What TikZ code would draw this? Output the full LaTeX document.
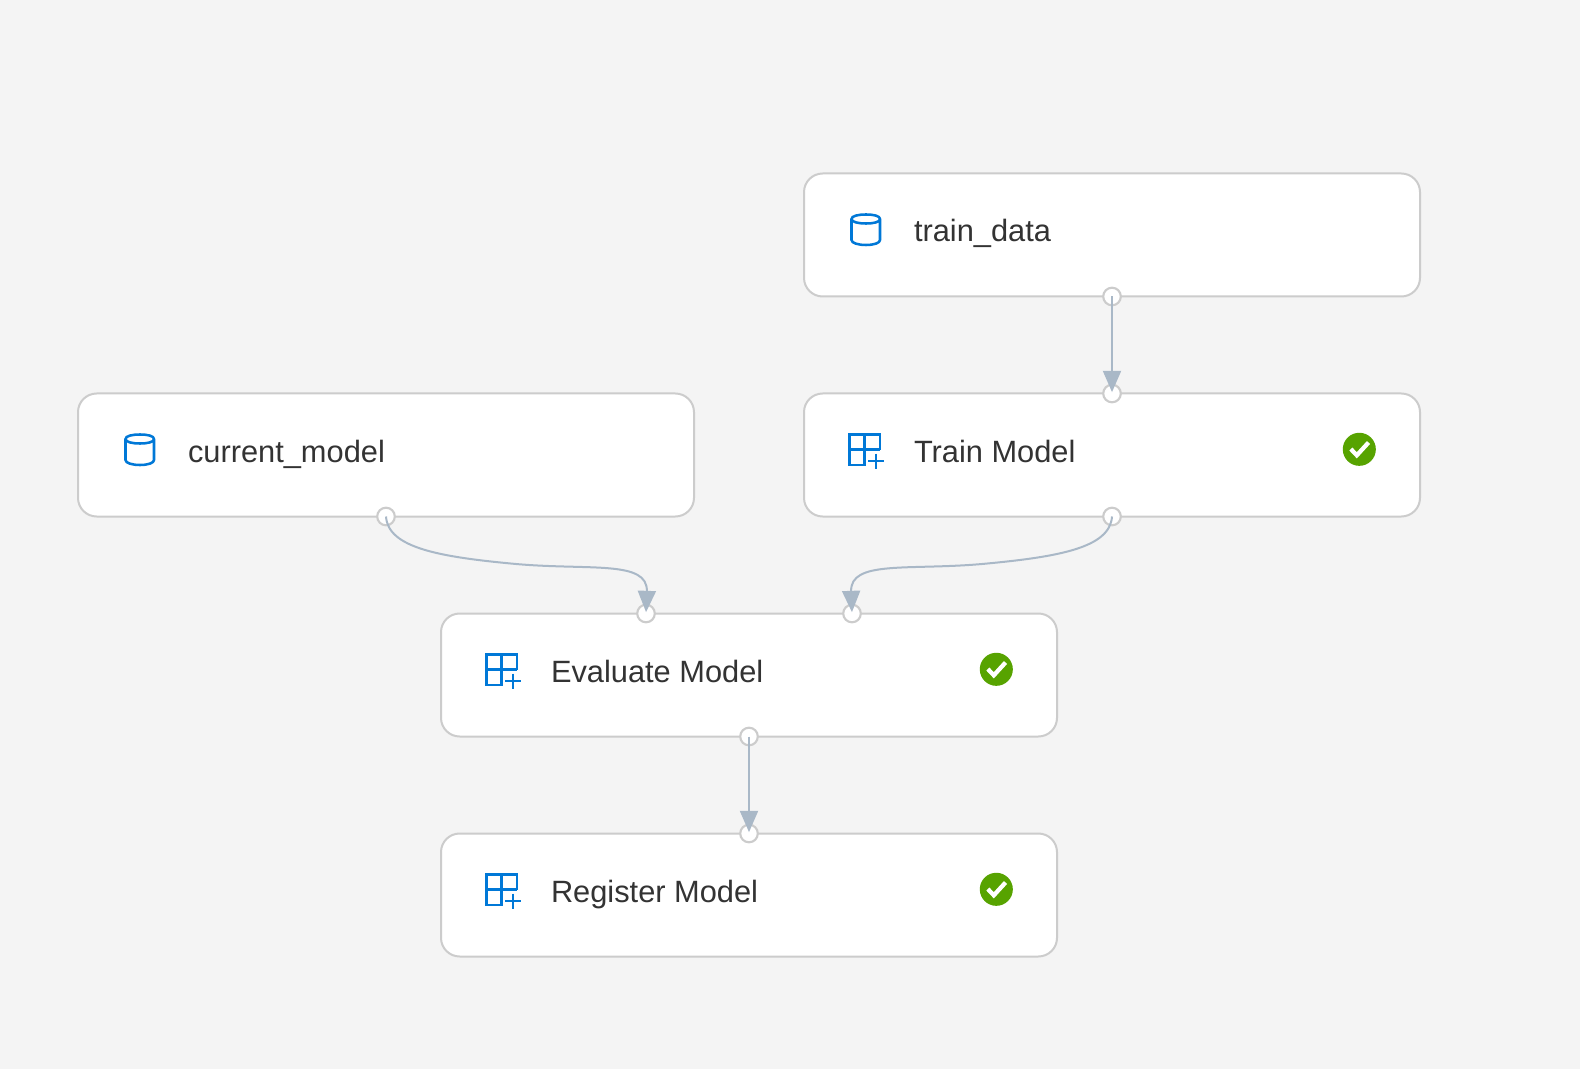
\documentclass[tikz,border=0pt]{standalone}
\usepackage{fontspec}
\setmainfont{Liberation Sans}
\usetikzlibrary{arrows.meta}
\definecolor{bgc}{HTML}{F4F4F4}
\definecolor{edgec}{HTML}{CCCCCC}
\definecolor{linkc}{HTML}{A9B8C7}
\definecolor{iconc}{HTML}{0078D7}
\definecolor{okc}{HTML}{57A300}
\definecolor{textc}{HTML}{333333}
\tikzset{
  x=0.75pt, y=-0.75pt,
  card/.style={draw=edgec, fill=white, line width=1.5pt, rounded corners=14pt,
    minimum width=462pt, minimum height=92.25pt, inner sep=0pt, outer sep=0pt},
  port/.style={circle, draw=edgec, fill=white, line width=1.6pt,
    minimum size=13.2pt, inner sep=0pt, outer sep=0pt},
  title/.style={anchor=base west, inner sep=0pt, outer sep=0pt, text=textc,
    font=\fontsize{23.1pt}{28pt}\selectfont},
  link/.style={draw=linkc, line width=1.5pt, shorten >=1pt,
    -{Triangle[length=16pt,width=13.5pt,fill=linkc]}},
  cylicon/.pic={
    \draw[iconc, line width=1.9pt, line join=round]
      (47.5,45.5) .. controls (47.5,42.5) and (54,41) .. (62,41)
      .. controls (70,41) and (76,42.5) .. (76,45.5)
      .. controls (76,48.5) and (70,50) .. (62,50)
      .. controls (54,50) and (47.5,48.5) .. (47.5,45.5)
      -- (47.5,66.5) .. controls (47.5,69.5) and (54,71.5) .. (62,71.5)
      .. controls (70,71.5) and (76,69.5) .. (76,66.5) -- (76,45.5);
  },
  gridicon/.pic={
    \draw[iconc, line width=1.9pt]
      (76,56) -- (76,41) -- (45.5,41) -- (45.5,71.5) -- (60.5,71.5) -- (60.5,41)
      (45.5,56) -- (76,56);
    \draw[iconc, line width=1.5pt]
      (64,67.5) -- (79.5,67.5) (71.7,60) -- (71.7,75.5);
  },
  okicon/.pic={
    \fill[okc] (555.3,55.8) circle[radius=12.4pt];
    \draw[white, line width=3.2pt] (546.8,55.5) -- (552.8,61.8) -- (564.5,49);
  },
}
\begin{document}
\begin{tikzpicture}
\useasboundingbox[fill=bgc] (0,0) rectangle (1580,1069);

% cards
\node[card] (traindata) at (1112,235) {};
\node[card] (trainmodel) at (1112,455) {};
\node[card] (currentmodel) at (386,455) {};
\node[card] (evaluate) at (749,675) {};
\node[card] (register) at (749,895) {};

% icons
\pic at (804,173.5) {cylicon};
\pic at (78,393.5) {cylicon};
\pic at (804,393.5) {gridicon};
\pic at (441,613.5) {gridicon};
\pic at (441,833.5) {gridicon};
\pic at (804,393.5) {okicon};
\pic at (441,613.5) {okicon};
\pic at (441,833.5) {okicon};

% titles
\node[title] (t1) at (914,242) {train\_data};
\node[title] (t2) at (914,462) {Train Model};
\node[title] (t3) at (188,462) {current\_model};
\node[title] (t4) at (551,682) {Evaluate Model};
\node[title] (t5) at (551,902) {Register Model};

% ports
\node[port] (p1) at (1112,296.5) {};
\node[port] (p2) at (1112,393.5) {};
\node[port] (p3) at (1112,516.5) {};
\node[port] (p4) at (386,516.5) {};
\node[port] (p5) at (646,613.5) {};
\node[port] (p6) at (852,613.5) {};
\node[port] (p7) at (749,736.5) {};
\node[port] (p8) at (749,833.5) {};

% connectors
\coordinate (m1) at (516,564);
\coordinate (m2) at (982,564);
\draw[link] (p1.center) -- (p2.center);
\draw[link] (p7.center) -- (p8.center);
\draw[link] (p4.center) .. controls (388,548) and (440,557) .. (m1)
  .. controls (590,570.5) and (648,560) .. (p5.center);
\draw[link] (p3.center) .. controls (1110,548) and (1058,557) .. (m2)
  .. controls (908,570.5) and (850,560) .. (p6.center);
\end{tikzpicture}
\end{document}
